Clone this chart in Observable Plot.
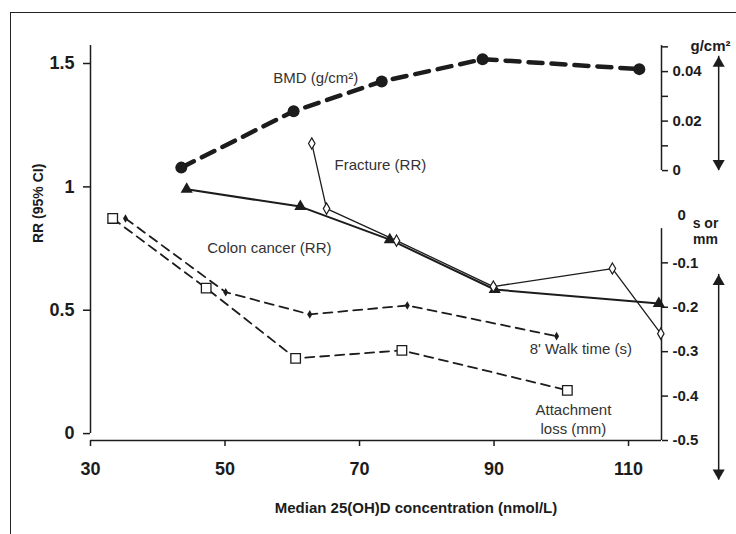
<!DOCTYPE html>
<html>
<head>
<meta charset="utf-8">
<script src="https://cdn.jsdelivr.net/npm/d3@7"></script>
<script src="https://cdn.jsdelivr.net/npm/@observablehq/plot@0.6"></script>
<style>
  html, body { margin: 0; padding: 0; background: #fff; }
  #wrap { position: relative; width: 736px; height: 534px; overflow: hidden; }
  #border { position: absolute; left: 10px; top: 12px; width: 800px; height: 600px;
            border-top: 1.5px solid #222; border-left: 1.5px solid #222; pointer-events: none; }
</style>
</head>
<body>
<div id="wrap"><div id="border"></div></div>
<script>
// ---------------- data ----------------
// BMD (g/cm²), right upper axis
const bmdX = [43.5, 60.2, 73.3, 88.3, 111.6];
const bmdVal = [0.0012, 0.024, 0.036, 0.045, 0.041];
// Colon cancer (RR), left axis
const colonX = [44.3, 61.2, 74.5, 90.1, 114.5];
const colonRR = [0.99, 0.92, 0.786, 0.584, 0.527];
// Fracture (RR), left axis
const fractureX = [62.9, 65.1, 75.5, 89.9, 107.6, 114.8];
const fractureRR = [1.176, 0.912, 0.782, 0.596, 0.669, 0.405];
// 8' Walk time (s), right lower axis
const walkX = [35.2, 50.1, 62.6, 77.1, 99.3];
const walkVal = [0, -0.166, -0.216, -0.196, -0.265];
// Attachment loss (mm), right lower axis
const attachX = [33.3, 47.2, 60.5, 76.3, 100.9];
const attachVal = [0, -0.157, -0.315, -0.297, -0.387];

// ticks
const xTicks = [30, 50, 70, 90, 110];
const rrTicks = [0, 0.5, 1, 1.5];
const rrTickLabels = ["0", "0.5", "1", "1.5"];
const bmdTicks = [0, 0.02, 0.04];
const bmdTickLabels = ["0", "0.02", "0.04"];
const bmdMinorTicks = [0.01, 0.03, 0.05];
const secTicks = [-0.1, -0.2, -0.3, -0.4, -0.5];
const secTickLabels = ["-0.1", "-0.2", "-0.3", "-0.4", "-0.5"];

// series labels (data units: x, RR)
const labelText = ["BMD (g/cm²)", "Fracture (RR)", "Colon cancer (RR)", "8' Walk time (s)", "Attachment", "loss (mm)"];
const labelX = [63.5, 73.1, 56.6, 102.9, 101.8, 101.8];
const labelY = [1.439, 1.086, 0.75, 0.341, 0.094, 0.017];

// axis extents in each axis' own units
const bmdAxisExtent = [0, 0.0505];
const secAxisExtent = [-0.5, -0.023];
const bmdArrowExtent = [0.0462, 0];
const secArrowExtent = [-0.126, -0.589];

// ---------------- secondary-axis mappings onto the RR scale ----------------
const bmdToRR = v => 1.066 + v * 10.03;
const secToRR = v => 0.872 + v * 1.8;

const X0 = 30, X1 = 114.9;      // x domain
const ARROW_X = 123.4;          // x (in data units) of the axis arrows

const zip = (xs, ys, f = d => d) => xs.map((x, i) => ({x, y: f(ys[i])}));
const bmd = zip(bmdX, bmdVal, bmdToRR);
const colon = zip(colonX, colonRR);
const fracture = zip(fractureX, fractureRR);
const walk = zip(walkX, walkVal, secToRR);
const attach = zip(attachX, attachVal, secToRR);
const labels = labelText.map((t, i) => ({t, x: labelX[i], y: labelY[i]}));

const INK = "#1c1c1c";
const FONT = "'Liberation Sans', Arial, Helvetica, sans-serif";

const chart = Plot.plot({
  width: 736,
  height: 534,
  marginLeft: 90,
  marginRight: 75,
  marginTop: 45,
  marginBottom: 94,
  x: {domain: [X0, X1]},
  y: {domain: [-0.028, 1.573]},
  style: {fontFamily: FONT, fontSize: "15px", color: INK, background: "transparent", overflow: "visible"},
  marks: [
    // left axis
    Plot.ruleX([X0], {y1: 0, y2: 1.573, stroke: INK, strokeWidth: 1.5}),
    Plot.axisY({ticks: rrTicks, tickFormat: (d, i) => rrTickLabels[i], tickSize: 7, tickPadding: 9,
      fontSize: 18, fontWeight: "bold", label: null, stroke: INK, strokeWidth: 1.5}),
    // x axis
    Plot.ruleY([-0.028], {x1: X0, x2: X1, stroke: INK, strokeWidth: 1.5}),
    Plot.axisX({ticks: xTicks, tickSize: 6, tickPadding: 16, fontSize: 18, fontWeight: "bold",
      label: null, stroke: INK, strokeWidth: 1.5}),
    // upper right (BMD) axis
    Plot.ruleX([X1], {y1: bmdToRR(bmdAxisExtent[0]), y2: bmdToRR(bmdAxisExtent[1]), stroke: INK, strokeWidth: 1.5}),
    Plot.axisY({anchor: "right", ticks: bmdTicks.map(bmdToRR), tickFormat: (d, i) => bmdTickLabels[i],
      tickSize: 6, tickPadding: 5, fontSize: 15, fontWeight: "bold", label: null, stroke: INK, strokeWidth: 1.5}),
    Plot.axisY({anchor: "right", ticks: bmdMinorTicks.map(bmdToRR), tickFormat: () => "",
      tickSize: 6, label: null, stroke: INK, strokeWidth: 1.5}),
    Plot.text(["g/cm²"], {x: X1, y: bmdToRR(bmdAxisExtent[1]), text: d => d, dx: 49, dy: 1,
      fontSize: 15, fontWeight: "bold", textAnchor: "middle", fill: INK}),
    // lower right (s or mm) axis
    Plot.ruleX([X1], {y1: secToRR(secAxisExtent[0]), y2: secToRR(secAxisExtent[1]), stroke: INK, strokeWidth: 1.5}),
    Plot.axisY({anchor: "right", ticks: secTicks.map(secToRR), tickFormat: (d, i) => secTickLabels[i],
      tickSize: 6, tickPadding: 5, fontSize: 15, fontWeight: "bold", label: null, stroke: INK, strokeWidth: 1.5}),
    Plot.text(["0"], {x: X1, y: secToRR(0), text: d => d, dx: 16, dy: -3,
      fontSize: 15, fontWeight: "bold", textAnchor: "start", fill: INK}),
    Plot.text(["s or"], {x: X1, y: secToRR(0), text: d => d, dx: 44, dy: 5,
      fontSize: 14, fontWeight: "bold", textAnchor: "middle", fill: INK}),
    Plot.text(["mm"], {x: X1, y: secToRR(0), text: d => d, dx: 44, dy: 21,
      fontSize: 14, fontWeight: "bold", textAnchor: "middle", fill: INK}),
    // arrows
    Plot.ruleX([ARROW_X], {y1: bmdToRR(bmdArrowExtent[0]), y2: bmdToRR(bmdArrowExtent[1]), stroke: INK, strokeWidth: 1.5}),
    Plot.dot([bmdArrowExtent[0]], {x: ARROW_X, y: bmdToRR, symbol: "triangle", r: 4.5, dy: 7, fill: INK, stroke: "none"}),
    Plot.dot([bmdArrowExtent[1]], {x: ARROW_X, y: bmdToRR, symbol: "triangle", r: 4.5, dy: -7, rotate: 180, fill: INK, stroke: "none"}),
    Plot.ruleX([ARROW_X], {y1: secToRR(secArrowExtent[0]), y2: secToRR(secArrowExtent[1]), stroke: INK, strokeWidth: 1.5}),
    Plot.dot([secArrowExtent[0]], {x: ARROW_X, y: secToRR, symbol: "triangle", r: 4.5, dy: 7, fill: INK, stroke: "none"}),
    Plot.dot([secArrowExtent[1]], {x: ARROW_X, y: secToRR, symbol: "triangle", r: 4.5, dy: -7, rotate: 180, fill: INK, stroke: "none"}),
    // axis titles
    Plot.text(["RR (95% CI)"], {frameAnchor: "left", text: d => d, dx: -52, rotate: -90,
      fontSize: 14, fontWeight: "bold", fill: INK}),
    Plot.text(["Median 25(OH)D concentration (nmol/L)"], {frameAnchor: "bottom", text: d => d, dx: 40, dy: 72,
      fontSize: 15, fontWeight: "bold", fill: INK}),
    // series
    Plot.line(bmd, {x: "x", y: "y", stroke: INK, strokeWidth: 4.5, strokeDasharray: "14,9"}),
    Plot.line(attach, {x: "x", y: "y", stroke: INK, strokeWidth: 1.8, strokeDasharray: "9,6"}),
    Plot.line(walk, {x: "x", y: "y", stroke: INK, strokeWidth: 1.8, strokeDasharray: "9,6"}),
    Plot.line(colon, {x: "x", y: "y", stroke: INK, strokeWidth: 2}),
    Plot.line(fracture, {x: "x", y: "y", stroke: INK, strokeWidth: 1.3}),
    Plot.dot(bmd, {x: "x", y: "y", r: 6, fill: INK, stroke: "none"}),
    Plot.dot(colon, {x: "x", y: "y", symbol: "triangle", r: 4.5, fill: INK, stroke: "none"}),
    Plot.dot(fracture, {x: "x", y: "y", symbol: "diamond", r: 3.4, fill: "white", stroke: INK, strokeWidth: 1.2}),
    Plot.dot(walk, {x: "x", y: "y", symbol: "diamond", r: 2.6, fill: INK, stroke: "none"}),
    Plot.dot(attach, {x: "x", y: "y", symbol: "square", r: 5.4, fill: "white", stroke: INK, strokeWidth: 1.3}),
    // series labels
    Plot.text(labels, {x: "x", y: "y", text: "t", fontSize: 15, fill: "#333", textAnchor: "middle"})
  ]
});
document.getElementById("wrap").insertBefore(chart, document.getElementById("border"));
chart.style.position = "absolute";
chart.style.left = "0px";
chart.style.top = "0px";
</script>
</body>
</html>
